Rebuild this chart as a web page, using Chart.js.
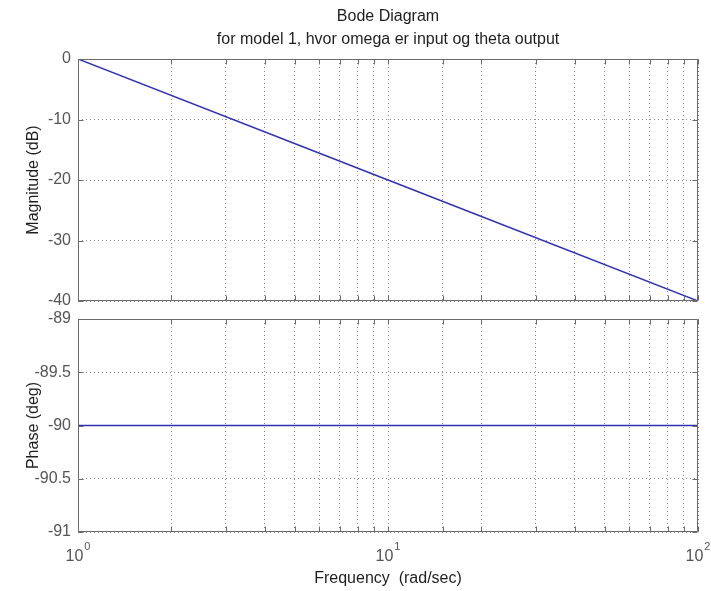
<!DOCTYPE html>
<html>
<head>
<meta charset="utf-8">
<title>Bode Diagram</title>
<script src="https://cdn.jsdelivr.net/npm/chart.js@4/dist/chart.umd.min.js"></script>
<style>
  html, body { margin: 0; padding: 0; background: #ffffff; }
  #wrap { position: relative; width: 711px; height: 591px; background: #ffffff; }
  #wrap canvas { position: absolute; left: 0; top: 0; }
</style>
</head>
<body>
<div id="wrap">
  <canvas id="mag" width="711" height="591"></canvas>
  <canvas id="phase" width="711" height="591"></canvas>
</div>
<script>
// Bode plot of an integrator: magnitude and phase against frequency
const titleLines = ['Bode Diagram', 'for model 1, hvor omega er input og theta output'];
const frequency = [1, 10, 100];            // rad/sec
const magnitudeDb = [0, -20, -40];         // dB
const phaseDeg = [-90, -90, -90];          // deg
const magTicks = [0, -10, -20, -30, -40];
const phaseTicks = [-89, -89.5, -90, -90.5, -91];
const decadeValues = [1, 10, 100];
const decadeExponents = ['0', '1', '2'];
const xTitle = 'Frequency  (rad/sec)';
const magTitle = 'Magnitude (dB)';
const phaseTitle = 'Phase (deg)';

const FONT = '"Liberation Sans", Arial, Helvetica, sans-serif';
const LINE = '#3030b4';
const FRAME = '#6a6a6a';
const GRID = '#8c8c8c';
const LABEL = '#555555';
const TEXT = '#1e1e1e';
const PLOT_LEFT = 78;
const PLOT_RIGHT_PAD = 13;

// Closed box around the axes with inward tick marks on all four sides
const boxFrame = {
  id: 'boxFrame',
  afterDraw(chart) {
    const { ctx, chartArea: a, scales: { x, y } } = chart;
    const L = Math.round(a.left) + 0.5, R = Math.round(a.right) - 0.5;
    const T = Math.round(a.top) + 0.5, B = Math.round(a.bottom) - 0.5;
    const len = 5;
    ctx.save();
    ctx.strokeStyle = FRAME;
    ctx.lineWidth = 1;
    ctx.beginPath();
    ctx.moveTo(L, T); ctx.lineTo(R, T); ctx.lineTo(R, B); ctx.lineTo(L, B); ctx.closePath();
    x.ticks.forEach(t => {
      const px = Math.round(x.getPixelForValue(t.value)) + 0.5;
      ctx.moveTo(px, B); ctx.lineTo(px, B - len);
      ctx.moveTo(px, T); ctx.lineTo(px, T + len);
    });
    y.ticks.forEach(t => {
      const py = Math.round(y.getPixelForValue(t.value)) + 0.5;
      ctx.moveTo(L, py); ctx.lineTo(L + len, py);
      ctx.moveTo(R, py); ctx.lineTo(R - len, py);
    });
    ctx.stroke();
    ctx.restore();
  }
};

// Two-line heading centred over the axes
const headingPlugin = {
  id: 'heading',
  afterDraw(chart) {
    const { ctx, chartArea: a } = chart;
    const cx = (a.left + a.right) / 2;
    ctx.save();
    ctx.fillStyle = TEXT;
    ctx.font = '16px ' + FONT;
    ctx.textAlign = 'center';
    ctx.textBaseline = 'middle';
    ctx.fillText(titleLines[0], cx, 17);
    ctx.fillText(titleLines[1], cx, 40);
    ctx.restore();
  }
};

// Decade labels written as powers of ten
const decadeLabels = {
  id: 'decadeLabels',
  afterDraw(chart) {
    const { ctx, scales: { x } } = chart;
    ctx.save();
    ctx.fillStyle = LABEL;
    ctx.textBaseline = 'alphabetic';
    ctx.textAlign = 'left';
    decadeValues.forEach((v, i) => {
      const px = x.getPixelForValue(v);
      ctx.font = '16px ' + FONT;
      const wBase = ctx.measureText('10').width;
      ctx.font = '11px ' + FONT;
      const wExp = ctx.measureText(decadeExponents[i]).width;
      const start = px - (wBase + wExp + 1) / 2;
      ctx.font = '16px ' + FONT;
      ctx.fillText('10', start, 561);
      ctx.font = '11px ' + FONT;
      ctx.fillText(decadeExponents[i], start + wBase + 1, 550);
    });
    ctx.restore();
  }
};

function makeChart(id, values, yTicks, yTitle, padding, showXTitle, extraPlugins) {
  const points = frequency.map((f, i) => ({ x: f, y: values[i] }));
  return new Chart(document.getElementById(id), {
    type: 'line',
    data: {
      datasets: [{
        data: points,
        borderColor: LINE,
        borderWidth: 1.5,
        pointRadius: 0,
        tension: 0,
        fill: false
      }]
    },
    options: {
      responsive: false,
      animation: false,
      devicePixelRatio: 1,
      layout: { padding },
      plugins: { legend: { display: false }, tooltip: { enabled: false } },
      scales: {
        x: {
          type: 'logarithmic',
          min: decadeValues[0],
          max: decadeValues[decadeValues.length - 1],
          ticks: { display: false },
          grid: { color: GRID, lineWidth: 1, drawTicks: false },
          border: { display: false, dash: [1, 3] },
          title: {
            display: showXTitle,
            text: xTitle,
            color: TEXT,
            font: { family: FONT, size: 16 },
            padding: { top: 0, bottom: 3 }
          },
          afterFit(s) { s.height = showXTitle ? 59 : 0; }
        },
        y: {
          type: 'linear',
          min: Math.min(...yTicks),
          max: Math.max(...yTicks),
          afterBuildTicks(s) { s.ticks = yTicks.map(v => ({ value: v })); },
          ticks: {
            color: LABEL,
            font: { family: FONT, size: 16 },
            padding: 7,
            autoSkip: false,
            callback: v => String(v)
          },
          grid: { color: GRID, lineWidth: 1, drawTicks: false },
          border: { display: false, dash: [1, 3] },
          title: {
            display: true,
            text: yTitle,
            color: TEXT,
            font: { family: FONT, size: 16 },
            padding: { top: 24, bottom: 0 }
          },
          afterFit(s) { s.width = PLOT_LEFT; }
        }
      }
    },
    plugins: [boxFrame, ...extraPlugins]
  });
}

makeChart('mag', magnitudeDb, magTicks, magTitle,
  { top: 59, bottom: 290, left: 0, right: PLOT_RIGHT_PAD }, false, [headingPlugin]);
makeChart('phase', phaseDeg, phaseTicks, phaseTitle,
  { top: 319, bottom: 0, left: 0, right: PLOT_RIGHT_PAD }, true, [decadeLabels]);
</script>
</body>
</html>
